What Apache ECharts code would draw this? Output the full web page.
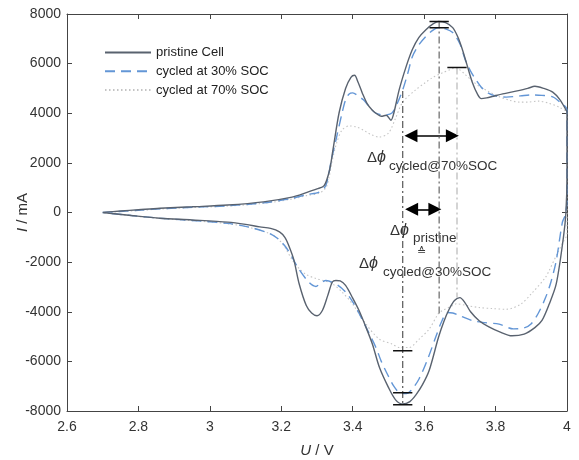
<!DOCTYPE html>
<html>
<head>
<meta charset="utf-8">
<script src="https://cdn.jsdelivr.net/npm/echarts/dist/echarts.min.js"></script>
<style>
  html, body { margin: 0; padding: 0; background: #fff; }
  #chart { width: 579px; height: 460px; }
</style>
</head>
<body>
<div id="chart"></div>
<script>
// cyclic voltammograms, [U in V, I in mA], anodic branch 2.7 -> 4.0 then cathodic 4.0 -> 2.7
var pristine = [
  [2.70, 0], [2.75, 60], [2.80, 110], [2.86, 170], [2.95, 230], [3.05, 300], [3.15, 430],
  [3.23, 620], [3.27, 800], [3.30, 950], [3.32, 1080], [3.335, 1700], [3.345, 2550],
  [3.362, 4030], [3.38, 5000], [3.395, 5450], [3.405, 5530], [3.415, 5250], [3.427, 4810],
  [3.44, 4400], [3.455, 4120], [3.47, 3950], [3.48, 3880], [3.494, 3920], [3.507, 3720],
  [3.515, 4000], [3.53, 4940], [3.55, 5900], [3.567, 6570], [3.585, 7050], [3.605, 7370],
  [3.625, 7600], [3.64, 7700], [3.66, 7650], [3.68, 7450], [3.695, 7050], [3.707, 6570],
  [3.72, 5950], [3.735, 5240], [3.75, 4750], [3.76, 4590], [3.775, 4620], [3.79, 4670],
  [3.82, 4780], [3.857, 4890], [3.89, 5000], [3.91, 5090], [3.935, 5000], [3.96, 4850],
  [3.98, 4550], [3.997, 4140], [4.0, 4050],
  [4.0, 1500], [3.997, 0], [3.99, -1000], [3.97, -2870], [3.95, -3700], [3.93, -4350],
  [3.91, -4640], [3.88, -4900], [3.846, -4970], [3.81, -4800], [3.78, -4600], [3.754, -4360],
  [3.73, -4000], [3.715, -3650], [3.70, -3430], [3.685, -3550], [3.67, -3900], [3.655, -4400],
  [3.64, -5040], [3.614, -6370], [3.595, -6950], [3.577, -7350], [3.56, -7620], [3.54, -7720],
  [3.52, -7550], [3.50, -7050], [3.475, -6250], [3.455, -5300], [3.435, -4550], [3.418, -3960],
  [3.40, -3450], [3.38, -2940], [3.365, -2760], [3.353, -2740], [3.343, -2800], [3.33, -3350],
  [3.315, -3950], [3.30, -4160], [3.285, -4050], [3.27, -3750], [3.25, -2870], [3.235, -1900],
  [3.22, -1300], [3.21, -1000], [3.195, -780], [3.17, -640], [3.14, -580], [3.10, -480],
  [3.05, -390], [2.95, -300], [2.86, -230], [2.78, -120], [2.70, 0]
];

var cycled30 = [
  [2.70, 0], [2.80, 90], [2.86, 150], [2.95, 210], [3.05, 270], [3.15, 390], [3.23, 570],
  [3.27, 720], [3.306, 820], [3.325, 1100], [3.34, 2100], [3.353, 2920], [3.37, 4000],
  [3.38, 4540], [3.39, 4780], [3.40, 4820], [3.415, 4700], [3.43, 4540], [3.447, 4250],
  [3.464, 4010], [3.49, 3930], [3.51, 4010], [3.525, 4400], [3.54, 4940], [3.555, 5650],
  [3.567, 6280], [3.585, 6750], [3.605, 7100], [3.625, 7350], [3.64, 7450], [3.66, 7400],
  [3.68, 7250], [3.70, 6800], [3.715, 6160], [3.73, 5700], [3.745, 5350], [3.76, 5050],
  [3.78, 4810], [3.80, 4700], [3.83, 4650], [3.87, 4700], [3.90, 4740], [3.93, 4720],
  [3.96, 4660], [3.98, 4450], [4.0, 4140],
  [4.0, 500], [3.995, -100], [3.987, -400], [3.97, -1930], [3.955, -2800], [3.94, -3430],
  [3.92, -4050], [3.90, -4480], [3.88, -4650], [3.85, -4690], [3.81, -4500], [3.77, -4440],
  [3.735, -4360], [3.70, -4160], [3.68, -4050], [3.665, -4030], [3.65, -4360], [3.633, -5000],
  [3.61, -5900], [3.586, -6700], [3.565, -7150], [3.55, -7300], [3.53, -7250], [3.515, -7000],
  [3.50, -6600], [3.48, -6000], [3.465, -5440], [3.44, -4700], [3.418, -4070], [3.40, -3600],
  [3.38, -3200], [3.355, -2900], [3.325, -2740], [3.31, -2850], [3.297, -2980], [3.278, -2820],
  [3.25, -2300], [3.23, -1800], [3.213, -1400], [3.19, -1050], [3.166, -840], [3.11, -590],
  [3.05, -440], [2.95, -320], [2.86, -230], [2.78, -120], [2.70, 0]
];

var cycled70 = [
  [2.70, 0], [2.80, 80], [2.86, 140], [2.95, 200], [3.05, 260], [3.15, 370], [3.23, 540],
  [3.27, 680], [3.306, 780], [3.325, 1000], [3.335, 1500], [3.343, 2110], [3.355, 2800],
  [3.37, 3320], [3.39, 3490], [3.41, 3450], [3.43, 3320], [3.45, 3150], [3.474, 3040],
  [3.50, 3200], [3.52, 3800], [3.54, 4450], [3.576, 4940], [3.60, 5200], [3.623, 5430],
  [3.65, 5620], [3.68, 5800], [3.69, 5840], [3.70, 5750], [3.716, 5550], [3.735, 5300],
  [3.754, 5090], [3.78, 4880], [3.81, 4670], [3.84, 4520], [3.866, 4450], [3.89, 4450],
  [3.92, 4490], [3.95, 4400], [3.977, 4250], [4.0, 4000],
  [4.0, -850], [3.987, -1250], [3.977, -1530], [3.95, -2340], [3.94, -2610], [3.90, -3280],
  [3.87, -3700], [3.83, -3900], [3.79, -3870], [3.754, -3830], [3.72, -3750], [3.69, -3680],
  [3.68, -3750], [3.65, -3960], [3.64, -4070], [3.614, -4700], [3.586, -5100], [3.558, -5440],
  [3.53, -5440], [3.51, -5300], [3.474, -5100], [3.437, -4490], [3.40, -3700], [3.37, -3200],
  [3.343, -2870], [3.32, -2750], [3.297, -2660], [3.27, -2500], [3.25, -2260], [3.23, -1900],
  [3.21, -1400], [3.19, -1050], [3.166, -840], [3.11, -600], [3.05, -450], [2.95, -330],
  [2.86, -240], [2.78, -130], [2.70, 0]
];

var seriesNames = ["pristine Cell", "cycled at 30% SOC", "cycled at 70% SOC"];

// peak / valley positions marked in the plot
var peakU = [3.642, 3.642, 3.692];
var peakI = [7700, 7450, 5840];
var valleyU = [3.54, 3.54, 3.54];
var valleyI = [-7750, -7260, -5570];
// dash-dot guide lines: [U, I top, I bottom]
var guides = [[3.54, 4900, -7750], [3.642, 7700, -4100], [3.692, 5840, -3430]];
// double arrows: [U start, U end, I]
var arrows = [[3.563, 3.679, 3090], [3.565, 3.630, 130]];

var chart = echarts.init(document.getElementById("chart"));

var font = "Liberation Sans, Arial, sans-serif";
var barHalf = 0.027;

function curve(name, data, color, type, width, z) {
  return {
    name: name,
    type: "line",
    data: data,
    symbol: "none",
    showSymbol: false,
    smooth: 0.3,
    z: z,
    lineStyle: { color: color, width: width, type: type },
    itemStyle: { color: color },
    animation: false
  };
}

function seg(data, color, type, width) {
  return {
    type: "line",
    data: data,
    symbol: "none",
    z: 5,
    lineStyle: { color: color, width: width, type: type },
    silent: true,
    animation: false
  };
}

var series = [
  curve(seriesNames[2], cycled70, "#c4c4c4", [1.5, 2.5], 1.1, 2),
  curve(seriesNames[1], cycled30, "#6396d6", [10, 6], 1.4, 3),
  curve(seriesNames[0], pristine, "#59626f", "solid", 1.4, 4)
];

var guideColors = ["#555", "#666", "#b8b8b8"];
guides.forEach(function (g, i) {
  series.push(seg([[g[0], g[1]], [g[0], g[2]]], guideColors[i], [7, 3, 2, 3], 1.2));
});
peakU.forEach(function (u, i) {
  series.push(seg([[u - barHalf, peakI[i]], [u + barHalf, peakI[i]]], "#111", "solid", 1.5));
});
valleyU.forEach(function (u, i) {
  series.push(seg([[u - barHalf, valleyI[i]], [u + barHalf, valleyI[i]]], "#111", "solid", 1.5));
});

series.push({
  type: "line",
  data: [],
  silent: true,
  markLine: {
    silent: true,
    animation: false,
    symbol: ["triangle", "triangle"],
    symbolSize: [13, 13],
    label: { show: false },
    lineStyle: { color: "#000", width: 1.6, type: "solid" },
    data: arrows.map(function (a) {
      return [{ coord: [a[0], a[2]] }, { coord: [a[1], a[2]] }];
    })
  }
});

var subStyle = { fontSize: 13.5, fontFamily: font, fill: "#333", verticalAlign: "middle" };
function dphi(x, y) {
  return {
    type: "text", x: x, y: y, silent: true,
    style: {
      text: "{a|Δ}{b|ϕ}",
      verticalAlign: "middle",
      rich: {
        a: { fontSize: 15, fontFamily: font, fill: "#333" },
        b: { fontSize: 16, fontFamily: font, fontStyle: "italic", fill: "#333" }
      }
    }
  };
}
function sub(x, y, t, size) {
  return {
    type: "text", x: x, y: y, silent: true,
    style: Object.assign({}, subStyle, { text: t, fontSize: size || subStyle.fontSize })
  };
}

var plainNum = function (v) { return String(v); };

chart.setOption({
  animation: false,
  grid: { left: 67, right: 12, top: 14, bottom: 49, containLabel: false, outerBoundsMode: "none" },
  legend: {
    data: seriesNames,
    orient: "vertical",
    left: 104,
    top: 46,
    padding: 0,
    itemWidth: 46,
    itemHeight: 14,
    itemGap: 5.8,
    itemStyle: { opacity: 0 },
    textStyle: { fontSize: 13, color: "#222", fontFamily: font }
  },
  xAxis: [
    {
      type: "value", min: 2.6, max: 4, interval: 0.2, position: "bottom",
      name: "{i|U} / V", nameLocation: "middle", nameGap: 32, nameMoveOverlap: false,
      nameTextStyle: { fontSize: 15, color: "#333", fontFamily: font,
        rich: { i: { fontSize: 15, fontStyle: "italic", color: "#333", fontFamily: font } } },
      axisLine: { onZero: false, lineStyle: { color: "#444", width: 1 } },
      axisTick: { inside: true, length: 5, lineStyle: { color: "#444" } },
      axisLabel: { fontSize: 14, color: "#333", margin: 9, fontFamily: font, formatter: plainNum },
      splitLine: { show: false }
    },
    {
      type: "value", min: 2.6, max: 4, interval: 0.2, position: "top",
      axisLine: { onZero: false, lineStyle: { color: "#444", width: 1 } },
      axisTick: { inside: true, length: 5, lineStyle: { color: "#444" } },
      axisLabel: { show: false },
      splitLine: { show: false }
    }
  ],
  yAxis: [
    {
      type: "value", min: -8000, max: 8000, interval: 2000, position: "left",
      name: "{i|I} / mA", nameLocation: "middle", nameGap: 37, nameRotate: 90, nameMoveOverlap: false,
      nameTextStyle: { fontSize: 15, color: "#333", fontFamily: font,
        rich: { i: { fontSize: 15, fontStyle: "italic", color: "#333", fontFamily: font } } },
      axisLine: { show: true, onZero: false, lineStyle: { color: "#444", width: 1 } },
      axisTick: { show: true, inside: true, length: 5, lineStyle: { color: "#444" } },
      axisLabel: { fontSize: 14, color: "#333", margin: 6, fontFamily: font, formatter: plainNum },
      splitLine: { show: false }
    },
    {
      type: "value", min: -8000, max: 8000, interval: 2000, position: "right",
      axisLine: { show: true, onZero: false, lineStyle: { color: "#444", width: 1 } },
      axisTick: { show: true, inside: true, length: 5, lineStyle: { color: "#444" } },
      axisLabel: { show: false },
      splitLine: { show: false }
    }
  ],
  graphic: [
    dphi(367, 158), sub(389, 166, "cycled@70%SOC"),
    dphi(390, 231), sub(413, 238, "pristine"),
    sub(417, 252, "≙", 11),
    dphi(359, 264), sub(383, 272, "cycled@30%SOC")
  ],
  series: series
});
</script>
</body>
</html>
